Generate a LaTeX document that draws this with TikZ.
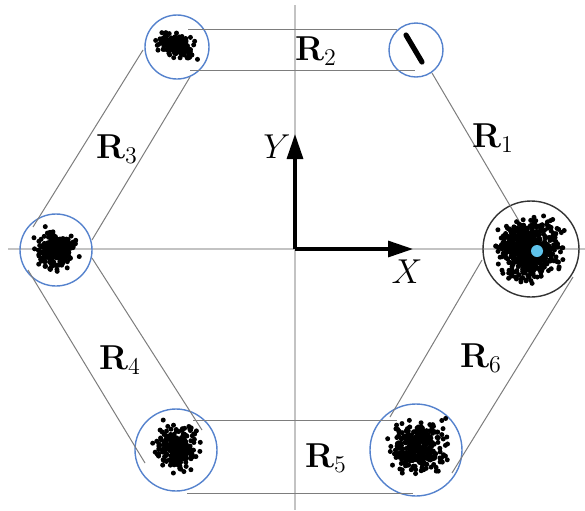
\documentclass[tikz,border=0pt]{standalone}
\usetikzlibrary{arrows.meta}
\definecolor{circblue}{RGB}{85,130,205}
\definecolor{dotcyan}{RGB}{95,195,235}
\definecolor{linegray}{RGB}{125,125,125}
\definecolor{axisgray}{RGB}{195,195,195}
\newcommand\mycluster[7]{% cx cy sx sy n seed tilt
  \pgfmathsetseed{#6}%
  \foreach \k in {1,...,#5}{%
    \pgfmathsetmacro\ux{#3*(rand+rand+rand)}%
    \pgfmathsetmacro\uy{#4*(rand+rand+rand)+#7*\ux}%
    \fill (#1+\ux,#2+\uy) circle[radius=2.5];
  }}
\begin{document}
\begin{tikzpicture}[x=0.5pt,y=-0.5pt,
  bluecirc/.style={draw=circblue,line width=0.7pt,circle,inner sep=0pt},
  blackcirc/.style={draw=black!80,line width=0.7pt,circle,inner sep=0pt},
  caps/.style={draw=linegray,line width=0.5pt},
  axis/.style={draw=axisgray,line width=0.7pt},
  arr/.style={line width=1.6pt,-{Triangle[length=12.5pt,width=8pt]}},
  lab/.style={font=\fontsize{18}{21}\selectfont,inner sep=0pt}]
\useasboundingbox (0,0) rectangle (585,510);
% axes
\coordinate (o) at (295,249);
\coordinate (axl) at (8,249);
\coordinate (axr) at (585,249);
\coordinate (axt) at (295,5);
\coordinate (axb) at (295,510);
\draw[axis] (axl) -- (axr);
\draw[axis] (axt) -- (axb);
% circles
\node[bluecirc,minimum size=27pt] (c1) at (416,50) {};
\node[bluecirc,minimum size=32pt] (c2) at (177,47) {};
\node[bluecirc,minimum size=36pt] (c3) at (56,250) {};
\node[bluecirc,minimum size=41pt] (c4) at (176,450) {};
\node[bluecirc,minimum size=46pt] (c5) at (416,450) {};
\node[blackcirc,minimum size=48pt] (c6) at (531,249) {};
% capsule lines
\coordinate (r1a) at (432,73);  \coordinate (r1b) at (532,243);
\coordinate (r2a) at (188,29);  \coordinate (r2b) at (397,29);
\coordinate (r2c) at (190,70);  \coordinate (r2d) at (415,70);
\coordinate (r3a) at (143,50);  \coordinate (r3b) at (33,227);
\coordinate (r3c) at (190,77);  \coordinate (r3d) at (92,240);
\coordinate (r4a) at (28,270);  \coordinate (r4b) at (145,463);
\coordinate (r4c) at (92,258);  \coordinate (r4d) at (202,430);
\coordinate (r5a) at (193,420); \coordinate (r5b) at (397,420);
\coordinate (r5c) at (187,493); \coordinate (r5d) at (413,493);
\coordinate (r6a) at (390,417); \coordinate (r6b) at (482,260);
\coordinate (r6c) at (452,473); \coordinate (r6d) at (573,277);
\draw[caps] (r1a) -- (r1b);
\draw[caps] (r2a) -- (r2b); \draw[caps] (r2c) -- (r2d);
\draw[caps] (r3a) -- (r3b); \draw[caps] (r3c) -- (r3d);
\draw[caps] (r4a) -- (r4b); \draw[caps] (r4c) -- (r4d);
\draw[caps] (r5a) -- (r5b); \draw[caps] (r5c) -- (r5d);
\draw[caps] (r6a) -- (r6b); \draw[caps] (r6c) -- (r6d);
% clusters
\mycluster{176}{46}{8}{5.2}{170}{11}{0.25}
\mycluster{56}{249}{8.8}{8.5}{240}{23}{0}
\mycluster{530}{250}{13.5}{13.5}{620}{37}{0}
\mycluster{177}{447}{9.5}{10.5}{250}{41}{0}
\mycluster{418}{447}{13}{10.5}{320}{53}{0}
\coordinate (s1) at (406,35); \coordinate (s2) at (422,62);
\draw[line width=2.6pt,line cap=round] (s1) -- (s2);
\fill[dotcyan] (c6.center) ++(6,2) circle[radius=6];
% arrows
\coordinate (xt) at (413,249);
\coordinate (yt) at (295,134);
\draw[arr] (o) -- (xt);
\draw[arr] (o) -- (yt);
\node[lab] (xl) at (407,272) {$X$};
\node[lab] (yl) at (277,147) {$Y$};
% labels
\node[lab] (l1) at (493,138) {$\mathbf{R}_1$};
\node[lab] (l2) at (316,51) {$\mathbf{R}_2$};
\node[lab] (l3) at (117,149) {$\mathbf{R}_3$};
\node[lab] (l4) at (120,360) {$\mathbf{R}_4$};
\node[lab] (l5) at (326,458) {$\mathbf{R}_5$};
\node[lab] (l6) at (481,358) {$\mathbf{R}_6$};
\end{tikzpicture}
\end{document}
